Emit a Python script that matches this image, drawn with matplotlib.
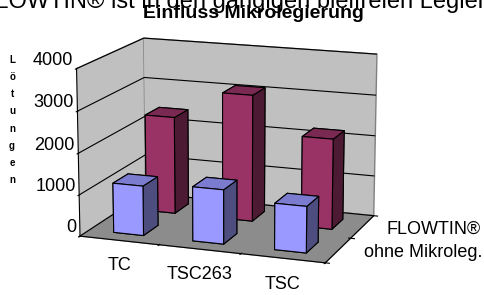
import matplotlib
matplotlib.use('Agg')
import matplotlib.pyplot as plt
import numpy as np

# Daten
categories = ['TC', 'TSC263', 'TSC']
series = ['ohne Mikroleg.', 'FLOWTIN®']
ohne = [1200, 1300, 1100]
flowtin = [2400, 3100, 2200]
z_ticks = [0, 1000, 2000, 3000, 4000]

plt.rcParams['font.family'] = ['Liberation Sans', 'DejaVu Sans']

# Flächenfarben je Serie: unten, oben, vorne, hinten, links, rechts
face_colors = {
    'ohne Mikroleg.': ['#9999ff', '#7b7bd0', '#9999ff', '#9999ff', '#9999ff', '#4d4d80'],
    'FLOWTIN®': ['#993366', '#7a2952', '#993366', '#993366', '#993366', '#4d1a33'],
}

fig = plt.figure(figsize=(4.84, 2.95), dpi=100)
ax = fig.add_axes([0.0, -0.08, 0.93, 1.15], projection='3d')
ax.view_init(elev=14, azim=-70)
ax.set_proj_type('persp', focal_length=1.0)
ax.set_box_aspect((1.95, 1.3, 1.3), zoom=1.0)

w, d = 0.38, 0.45
xs, ys, hs, cols = [], [], [], []
for row, (name, vals) in enumerate(zip(series, [ohne, flowtin])):
    for i, v in enumerate(vals):
        xs.append(i - w / 2)
        ys.append(row - d / 2)
        hs.append(v)
        cols += face_colors[name]

ax.bar3d(xs, ys, np.zeros(len(xs)), w, d, hs, color=cols, shade=False,
         edgecolor='black', linewidth=0.8)

ax.set_xlim(-0.5, 2.5)
ax.set_ylim(-0.5, 1.5)
ax.set_zlim(0, 4000)

# Teilstriche zwischen den Kategorien, Beschriftung als Text
ax.set_xticks(np.arange(len(categories) + 1) - 0.5)
ax.set_yticks(np.arange(len(series) + 1) - 0.5)
ax.tick_params(axis='x', labelbottom=False, labeltop=False)
ax.tick_params(axis='y', labelleft=False, labelright=False)
for i, name in enumerate(categories):
    ax.text(i, -0.5, -620, name, fontsize=13, ha='center', va='center')
for row, name in enumerate(series):
    ax.text(2.8, row, 0, name, fontsize=13, ha='left', va='center')

ax.set_zticks(z_ticks)
ax.set_zticklabels([str(t) for t in z_ticks], fontsize=13, ha='right', va='bottom')
ax.zaxis.set_ticks_position('lower')
ax.tick_params(axis='z', pad=-6.5)

# Wände und Boden
ax.xaxis.set_pane_color('#c0c0c0')
ax.yaxis.set_pane_color('#c0c0c0')
ax.zaxis.set_pane_color('#8c8c8c')
for axis in (ax.xaxis, ax.yaxis, ax.zaxis):
    axis.pane.set_edgecolor('#808080')

ax.grid(True)
ax.xaxis._axinfo['grid']['linewidth'] = 0
ax.yaxis._axinfo['grid']['linewidth'] = 0
ax.zaxis._axinfo['grid']['color'] = 'black'
ax.zaxis._axinfo['grid']['linewidth'] = 0.8

fig.text(-0.04, 1 - 8 / 295, 'FLOWTIN® ist in den gängigen bleifreien Legierungen',
         fontsize=17, va='baseline')
fig.text(0.524, 1 - 18 / 295, 'Einfluss Mikrolegierung', fontsize=14,
         fontweight='bold', ha='center', va='baseline')
fig.text(0.025, 0.593, '\n'.join('Lötungen'), fontsize=7, fontweight='bold',
         ha='center', va='center', linespacing=1.9)

plt.savefig('out.png', dpi=100)
